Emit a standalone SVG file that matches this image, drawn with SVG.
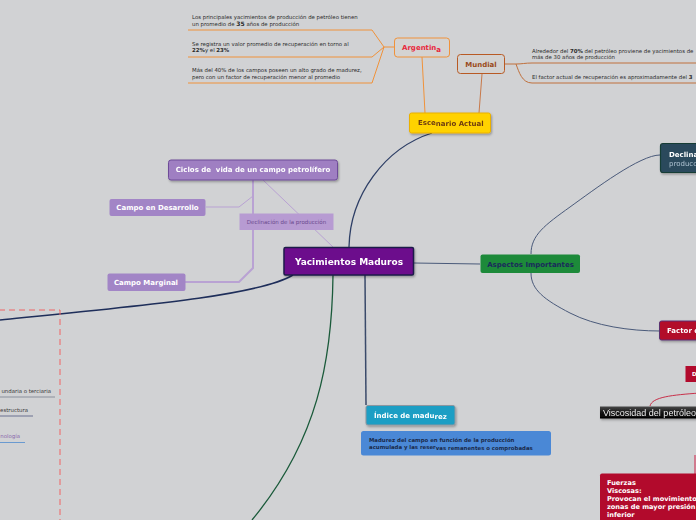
<svg xmlns="http://www.w3.org/2000/svg" width="696" height="520" viewBox="0 0 696 520">
<defs>
<style>
text{font-family:"DejaVu Sans","Noto Sans",sans-serif}
.b{font-weight:bold}
.sm{font-size:5.4px;fill:#2a2a2a}
.lbl{font-size:7px;font-weight:bold}
.or{fill:none;stroke:#f0923a;stroke-width:1}
.lav{fill:none;stroke:#b9a2d3;stroke-width:1}
.nv{fill:none;stroke:#2e3f66;stroke-width:1.3}
.wt{fill:#ffffff}
</style>
<filter id="sh" x="-10%" y="-20%" width="130%" height="160%">
<feDropShadow dx="1" dy="1.5" stdDeviation="0.8" flood-color="#000" flood-opacity="0.3"/>
</filter>
<linearGradient id="vg" x1="0" y1="0" x2="0" y2="1">
<stop offset="0" stop-color="#4a4a4a"/>
<stop offset="0.5" stop-color="#151515"/>
<stop offset="1" stop-color="#000000"/>
</linearGradient>
</defs>
<rect width="696" height="520" fill="#d1d2d4"/>

<g id="connectors">
<!-- Argentina branches -->
<path class="or" d="M188 30 H372 L384 47 M188 57 H372 L384 47 M188 83 H372 L384 47 H394"/>
<path class="or" d="M422 57 L425 113"/>
<!-- Mundial -->
<path d="M482 74 L479 113" fill="none" stroke="#c8794a" stroke-width="1"/>
<path d="M505 64 H516 C522 64 525 63 532 63 H696 M516 64 C519 72 522 83 532 83 H696" fill="none" stroke="#c0703c" stroke-width="1"/>
<!-- Escenario to Yacimientos -->
<path class="nv" d="M432 133 C385 148 350 195 349 247"/>
<!-- Ciclos -->
<path d="M253 180 V268 L239 282 H185" fill="none" stroke="#b9a2d3" stroke-width="2"/>
<path class="lav" d="M253 196 L239 207 H206"/>
<path class="lav" d="M263 180 L333 247"/>
<!-- Aspectos -->
<path d="M414 263 L480 264" fill="none" stroke="#4a5a7a" stroke-width="1"/>
<path d="M531 254 C531 235 545 225 570 207 S640 155 660 155" fill="none" stroke="#4a5a7a" stroke-width="1"/>
<path d="M531 273 C531 290 545 300 570 313 S630 331 660 331" fill="none" stroke="#4a5a7a" stroke-width="1"/>
<!-- red branch -->
<path d="M700 393 C672 395 652 397 650 406" fill="none" stroke="#c8304a" stroke-width="1"/>
<path d="M695 455 V474" fill="none" stroke="#d04060" stroke-width="1.2"/>
<!-- Indice -->
<path d="M365 275 L366 405" fill="none" stroke="#3a4a6a" stroke-width="1.5"/>
<!-- green -->
<path d="M333 275 C332 360 318 440 252 520" fill="none" stroke="#1a5a3a" stroke-width="1.3"/>
<!-- navy left -->
<path d="M293 275 C260 295 150 305 0 320" fill="none" stroke="#1e2e5a" stroke-width="1.5"/>
<!-- left underlines -->
<path d="M0 397 H55" stroke="#8a909c" stroke-width="1" fill="none"/>
<path d="M0 416 H33" stroke="#6a7090" stroke-width="1" fill="none"/>
<path d="M0 442.5 H25" stroke="#6a9ad0" stroke-width="1" fill="none"/>
</g>

<rect x="-1" y="310" width="61" height="215" fill="none" stroke="#f06464" stroke-width="1" stroke-dasharray="6,4"/>

<g id="txt-argentina">
<text class="sm" x="192" y="18.5">Los principales yacimientos de producción de petróleo tienen</text>
<text class="sm" x="192" y="26">un promedio de <tspan class="b" font-size="6px">35</tspan> años de producción</text>
<text class="sm" x="192" y="45.5">Se registra un valor promedio de recuperación en torno al</text>
<text class="sm" x="192" y="52"><tspan class="b">22%</tspan>y el <tspan class="b">23%</tspan></text>
<text class="sm" x="192" y="72">Más del 40% de los campos poseen un alto grado de madurez,</text>
<text class="sm" x="192" y="78.5">pero con un factor de recuperación menor al promedio</text>
</g>

<g id="txt-mundial">
<text class="sm" x="532" y="52.5">Alrededor del <tspan class="b">70%</tspan> del petróleo proviene de yacimientos de</text>
<text class="sm" x="532" y="59">más de 30 años de producción</text>
<text class="sm" x="532" y="78.5">El factor actual de recuperación es aproximadamente del <tspan class="b">3</tspan></text>
</g>

<g id="argentina">
<rect x="394.5" y="38" width="55" height="19" rx="3" fill="#d4d3d2" stroke="#f0923a" stroke-width="1"/>
<text class="lbl" x="402" y="50" fill="#e8283c">Argentin<tspan dy="1.5">a</tspan></text>
</g>

<g id="mundial">
<rect x="457.5" y="54.5" width="47" height="19" rx="3" fill="#d3d2d1" stroke="#b85a24" stroke-width="1"/>
<text class="lbl" x="481" y="66.5" text-anchor="middle" fill="#9a4a1a">Mundial</text>
</g>

<g id="escenario" filter="url(#sh)">
<rect x="409.5" y="113" width="81" height="20" rx="2" fill="#ffd200" stroke="#eab000" stroke-width="1"/>
<text class="lbl" x="418" y="125.5" fill="#6e3c10"><tspan dy="-0.5">Esce</tspan><tspan dy="0.8">nario Actual</tspan></text>
</g>

<g id="ciclos" filter="url(#sh)">
<rect x="168.5" y="160" width="169" height="20" rx="2.5" fill="#9f7fc2" stroke="#6e4c98" stroke-width="1"/>
<text class="lbl wt" x="253" y="172" text-anchor="middle" xml:space="preserve">Ciclos de  vida de un campo petrolífero</text>
</g>

<g id="desarrollo">
<rect x="109.5" y="199" width="96" height="17" rx="2" fill="#a285c6"/>
<text class="lbl wt" x="157.5" y="210" text-anchor="middle">Campo en Desarrollo</text>
</g>

<g id="marginal">
<rect x="107.5" y="273.5" width="78" height="17.5" rx="2" fill="#a285c6"/>
<text class="lbl wt" x="146" y="285" text-anchor="middle">Campo Marginal</text>
</g>

<g id="declinacion-small">
<rect x="239.5" y="213.5" width="94" height="16.5" fill="#b79bd2"/>
<text x="286.5" y="223.7" text-anchor="middle" font-size="5.5px" fill="#6a4a8e">Declinación de la producción</text>
</g>

<g id="yacimientos" filter="url(#sh)">
<rect x="284" y="247.5" width="129.5" height="27.5" rx="1.5" fill="#6c0a8c" stroke="#1e1e4a" stroke-width="1.5"/>
<text x="349" y="264.5" text-anchor="middle" font-size="9px" class="b wt">Yacimientos Maduros</text>
</g>

<g id="aspectos">
<rect x="480.5" y="254.5" width="99.5" height="18.5" rx="2" fill="#1d8a3a"/>
<text class="lbl" x="530.5" y="267" text-anchor="middle" fill="#1a2a5a">Aspectos Importantes</text>
</g>

<g id="declinacion-right" filter="url(#sh)">
<rect x="660.5" y="143.5" width="45" height="29" rx="2.5" fill="#2b4a5c" stroke="#183c36" stroke-width="1.2"/>
<text class="lbl wt" x="669" y="157">Declina</text>
<text x="669" y="165.5" font-size="7px" fill="#aec2d2">producc</text>
</g>

<g id="factor" filter="url(#sh)">
<rect x="659.5" y="321" width="45" height="19" rx="2" fill="#b20a2c" stroke="#5a3070" stroke-width="1"/>
<text class="lbl wt" x="667" y="333.3">Factor d</text>
</g>

<g id="d-node">
<rect x="685.5" y="366" width="15" height="16" fill="#b20a2c"/>
<text x="692" y="376" font-size="5.5px" class="b wt">D</text>
</g>

<g id="viscosidad" filter="url(#sh)">
<rect x="600" y="406.5" width="100" height="12" fill="url(#vg)"/>
<text x="603" y="415.8" font-family="Liberation Sans, Arial, sans-serif" style="font-family:'Liberation Sans',Arial,sans-serif" font-size="9px" fill="#ececec">Viscosidad del petróleo</text>
</g>

<g id="fuerzas">
<rect x="600" y="473.5" width="100" height="50" rx="2" fill="#b20a2c"/>
<text x="607" y="485" font-size="6.6px" class="b wt">Fuerzas</text>
<text x="607" y="493" font-size="6.6px" class="b wt">Viscosas:</text>
<text x="607" y="501" font-size="6.6px" class="b wt">Provocan el movimiento</text>
<text x="607" y="509" font-size="6.6px" class="b wt">zonas de mayor presión</text>
<text x="607" y="517" font-size="6.6px" class="b wt">inferior</text>
</g>

<g id="indice" filter="url(#sh)">
<rect x="366" y="405.5" width="89" height="19.5" rx="2" fill="#1a9ec4" stroke="#8a96a0" stroke-width="1"/>
<text class="lbl wt" x="374" y="417.5">Índice de madu<tspan dy="1">rez</tspan></text>
</g>

<g id="indice-desc">
<rect x="361" y="431" width="190" height="24.5" rx="2.5" fill="#4a88d6"/>
<text x="369" y="442" font-size="5.4px" class="b" fill="#1a2a4a">Madurez del campo en función de la producción</text>
<text x="369" y="449.3" font-size="5.4px" class="b" fill="#1a2a4a">acumulada y las reser<tspan dy="0.8">vas remanentes o comprobadas</tspan></text>
</g>

<g id="left-texts">
<text x="51" y="392.5" text-anchor="end" font-size="5.4px" fill="#3a3a3a">undaria o terciaria</text>
<text x="28" y="411.5" text-anchor="end" font-size="5.4px" fill="#3a3a3a">estructura</text>
<text x="20" y="437.5" text-anchor="end" font-size="5.4px" fill="#8a68ac">nología</text>
</g>
</svg>
